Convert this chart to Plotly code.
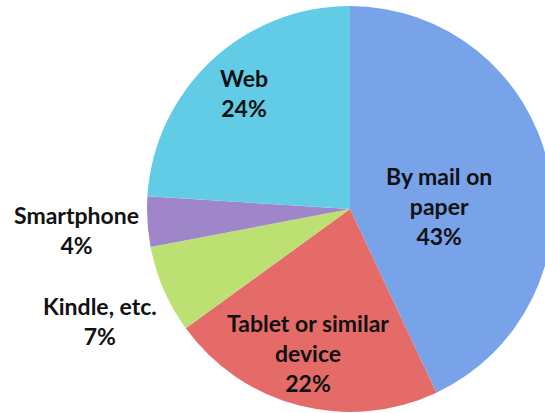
import plotly.graph_objects as go

# Survey response channels, clockwise from 12 o'clock
labels = ["By mail on<br>paper", "Tablet or similar<br>device", "Kindle, etc.", "Smartphone", "Web"]
values = [43, 22, 7, 4, 24]
colors = ["#78A3E8", "#E46B67", "#BDE073", "#9F86C9", "#62CCE6"]

# Label anchor points (paper coordinates)
label_x = [439, 308, 100, 76, 244]
label_y = [206, 353, 321, 230, 93]

W, H = 560, 413
cx, cy, r = 350, 209, 203

fig = go.Figure(go.Pie(
    labels=labels,
    values=values,
    sort=False,
    direction="clockwise",
    rotation=0,
    marker=dict(colors=colors, line=dict(width=0)),
    textinfo="none",
    hoverinfo="skip",
    showlegend=False,
    domain=dict(x=[(cx - r) / W, (cx + r) / W], y=[1 - (cy + r) / H, 1 - (cy - r) / H]),
))

for lab, val, x, y in zip(labels, values, label_x, label_y):
    fig.add_annotation(
        x=x / W, y=1 - y / H, xref="paper", yref="paper",
        text=f"{lab}<br>{val}%", showarrow=False,
        xanchor="center", yanchor="middle", align="center",
        font=dict(family="Lato", size=23, color="#111111", weight="bold"),
    )

fig.update_layout(
    width=W, height=H,
    margin=dict(l=0, r=0, t=0, b=0),
    paper_bgcolor="white", plot_bgcolor="white",
)

fig.write_html(
    "out.html",
    post_script="document.body.style.overflow='hidden';document.documentElement.style.overflow='hidden';",
)
